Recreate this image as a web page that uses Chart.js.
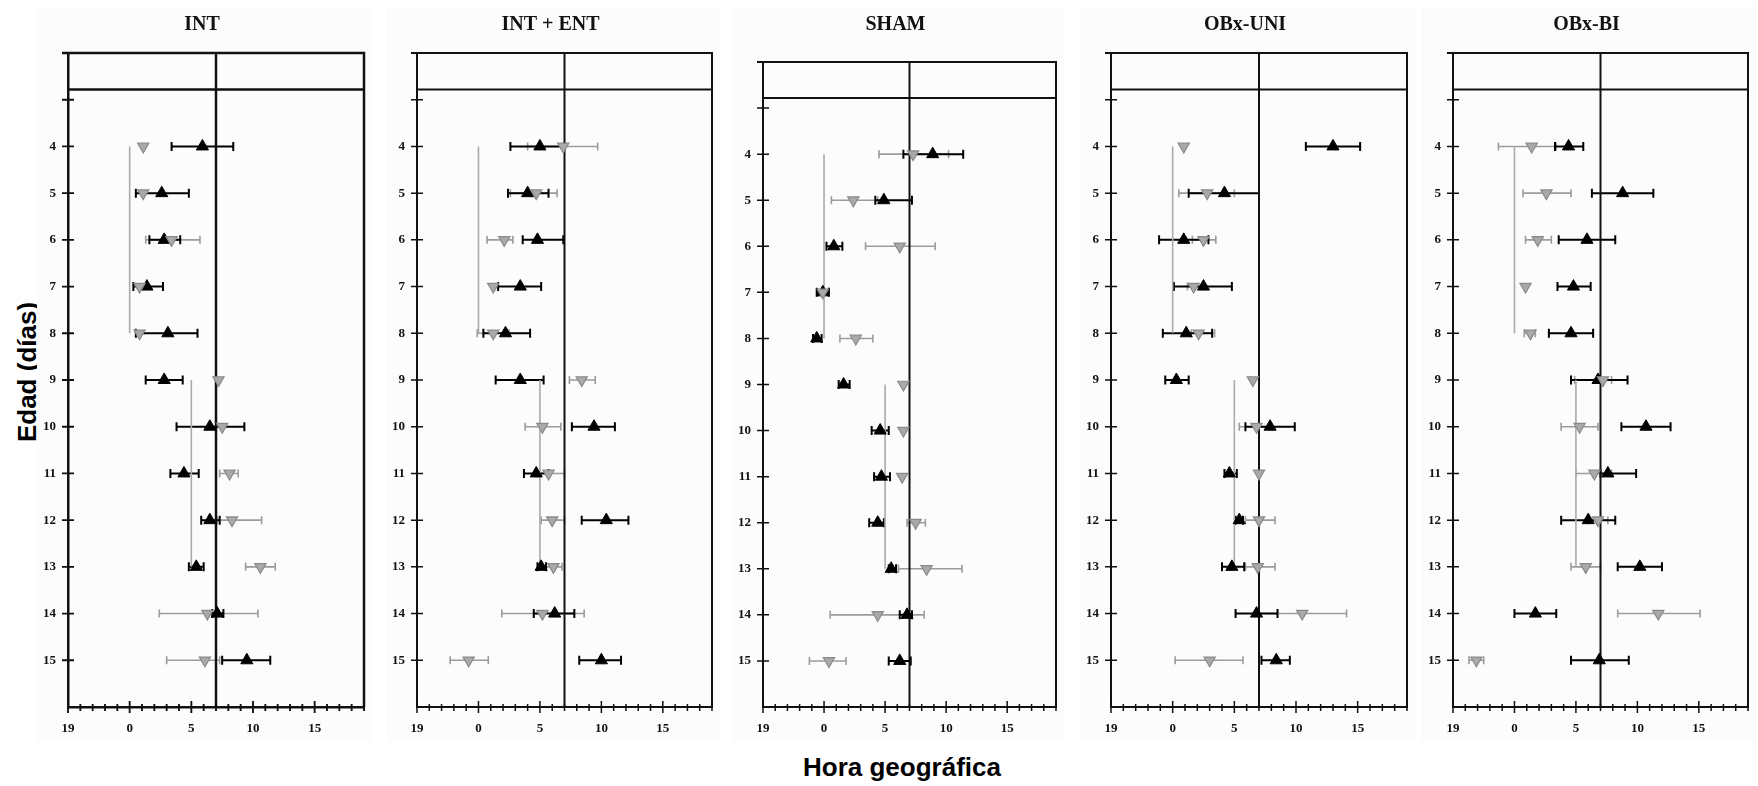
<!DOCTYPE html>
<html>
<head>
<meta charset="utf-8">
<script src="https://cdn.jsdelivr.net/npm/chart.js@4.4.1/dist/chart.umd.min.js"></script>
<style>
  body { margin: 0; background: #fff; width: 1758px; height: 786px; position: relative; overflow: hidden; }
  canvas { position: absolute; background: #fcfcfc; }
  .axis-title { position: absolute; font-family: 'Liberation Sans', Arial, sans-serif; font-weight: bold; font-size: 26px; line-height: 26px; white-space: nowrap; color: #000; }
</style>
</head>
<body>
<div class="axis-title" id="ytitle">Edad (días)</div>
<div class="axis-title" id="xtitle">Hora geográfica</div>
<script>
// ages (days) on the y axis
const ages = [4, 5, 6, 7, 8, 9, 10, 11, 12, 13, 14, 15];
const xTicks = [-5, 0, 5, 10, 15];   // -5 shows as hour 19
const refHour = 7;                   // black vertical reference line
const boxLine = 2.78;                // line closing the top box
// grey guide lines: hour, from age, to age
const guideLines = [[0, 4, 8], [5, 9, 13]];

// --- INT
const intBlack   = [5.9, 2.6, 2.8, 1.4, 3.1, 2.8, 6.5, 4.4, 6.5, 5.4, 7.1, 9.5];
const intBlackLo = [3.4, 0.5, 1.6, 0.3, 0.5, 1.3, 3.8, 3.3, 5.8, 4.8, 6.7, 7.5];
const intBlackHi = [8.4, 4.8, 4.1, 2.7, 5.5, 4.3, 9.3, 5.6, 7.3, 6.0, 7.6, 11.4];
const intGray    = [1.1, 1.1, 3.4, 0.8, 0.8, 7.2, 7.5, 8.1, 8.3, 10.6, 6.3, 6.1];
const intGrayLo  = [null, null, 1.3, null, null, null, null, 7.3, 7.1, 9.4, 2.4, 3.0];
const intGrayHi  = [null, null, 5.7, null, null, null, null, 8.8, 10.7, 11.8, 10.4, 7.3];

// --- INT + ENT
const entBlack   = [5.0, 4.0, 4.8, 3.4, 2.2, 3.4, 9.4, 4.7, 10.4, 5.1, 6.2, 10.0];
const entBlackLo = [2.6, 2.4, 3.6, 1.6, 0.4, 1.4, 7.6, 3.7, 8.4, 4.8, 4.5, 8.2];
const entBlackHi = [7.0, 5.7, 6.9, 5.1, 4.2, 5.3, 11.1, 5.7, 12.2, 5.5, 7.8, 11.6];
const entGray    = [6.9, 4.7, 2.1, 1.2, 1.2, 8.4, 5.2, 5.7, 6.0, 6.1, 5.2, -0.8];
const entGrayLo  = [4.0, 2.6, 0.7, null, -0.1, 7.4, 3.8, 4.7, 5.1, 5.5, 1.9, -2.3];
const entGrayHi  = [9.7, 6.4, 2.8, null, 2.5, 9.5, 6.7, 7.0, 7.0, 6.8, 8.6, 0.8];

// --- SHAM
const shamBlack   = [8.9, 4.9, 0.8, -0.1, -0.6, 1.6, 4.6, 4.7, 4.4, 5.5, 6.8, 6.2];
const shamBlackLo = [6.5, 4.2, 0.2, -0.6, -0.9, 1.2, 3.9, 4.1, 3.7, 5.3, 6.2, 5.3];
const shamBlackHi = [11.4, 7.2, 1.5, 0.4, -0.2, 2.1, 5.3, 5.4, 4.9, 5.9, 7.2, 7.1];
const shamGray    = [7.3, 2.4, 6.2, -0.1, 2.6, 6.5, 6.5, 6.4, 7.5, 8.4, 4.4, 0.4];
const shamGrayLo  = [4.5, 0.6, 3.4, null, 1.3, null, null, null, 6.8, 6.1, 0.5, -1.2];
const shamGrayHi  = [10.2, 4.4, 9.1, null, 4.0, null, null, null, 8.3, 11.3, 8.2, 1.8];

// --- OBx-UNI
const uniBlack   = [13.0, 4.2, 0.9, 2.5, 1.1, 0.3, 7.9, 4.6, 5.4, 4.8, 6.8, 8.4];
const uniBlackLo = [10.8, 1.3, -1.1, 0.1, -0.8, -0.6, 5.9, 4.2, 5.1, 4.0, 5.1, 7.2];
const uniBlackHi = [15.2, 7.0, 2.9, 4.8, 3.2, 1.3, 9.9, 5.2, 5.7, 5.8, 8.5, 9.5];
const uniGray    = [0.9, 2.8, 2.5, 1.7, 2.1, 6.5, 6.8, 7.0, 7.0, 6.9, 10.5, 3.0];
const uniGrayLo  = [null, 0.5, 1.6, 1.2, 1.5, null, 5.4, null, 5.9, 5.9, 7.0, 0.2];
const uniGrayHi  = [null, 5.0, 3.5, 2.6, 3.4, null, 8.0, null, 8.3, 8.3, 14.1, 5.7];

// --- OBx-BI
const biBlack   = [4.4, 8.8, 5.9, 4.8, 4.6, 6.8, 10.7, 7.6, 6.0, 10.2, 1.7, 6.9];
const biBlackLo = [3.3, 6.3, 3.6, 3.5, 2.8, 4.6, 8.7, 7.0, 3.8, 8.4, 0.0, 4.6];
const biBlackHi = [5.6, 11.3, 8.2, 6.2, 6.4, 9.2, 12.7, 9.9, 8.2, 12.0, 3.4, 9.3];
const biGray    = [1.4, 2.6, 1.9, 0.9, 1.3, 7.2, 5.3, 6.5, 6.8, 5.8, 11.7, -3.1];
const biGrayLo  = [-1.3, 0.7, 0.9, null, 0.8, 4.9, 3.8, 5.0, 6.0, 4.6, 8.4, -3.7];
const biGrayHi  = [3.4, 4.6, 3.0, null, 1.7, 7.9, 6.8, 7.9, 7.6, 7.0, 15.1, -2.5];

// layout of the five panels (page pixels)
const panels = [
  { title: 'INT',       black: [intBlack, intBlackLo, intBlackHi],    gray: [intGray, intGrayLo, intGrayHi],    left: 68,   right: 367,  top: 53, lw: 2.5 },
  { title: 'INT + ENT', black: [entBlack, entBlackLo, entBlackHi],    gray: [entGray, entGrayLo, entGrayHi],    left: 417,  right: 715,  top: 53, lw: 2 },
  { title: 'SHAM',      black: [shamBlack, shamBlackLo, shamBlackHi], gray: [shamGray, shamGrayLo, shamGrayHi], left: 763,  right: 1059, top: 62, lw: 2 },
  { title: 'OBx-UNI',   black: [uniBlack, uniBlackLo, uniBlackHi],    gray: [uniGray, uniGrayLo, uniGrayHi],    left: 1111, right: 1410, top: 53, lw: 2 },
  { title: 'OBx-BI',    black: [biBlack, biBlackLo, biBlackHi],       gray: [biGray, biGrayLo, biGrayHi],       left: 1453, right: 1751, top: 53, lw: 2 },
];

const CANVAS_TOP = 7, CANVAS_H = 735, PLOT_BOTTOM = 707, YAXIS_W = 31, PAD_R = 5;
const INK = '#111';

// error bars drawn under the markers
const errorBars = {
  id: 'errorBars',
  beforeDatasetsDraw(chart) {
    const { ctx, scales: { x, y } } = chart;
    chart.data.datasets.forEach(ds => {
      if (!ds.errLo) return;
      ctx.save();
      ctx.strokeStyle = ds.errColor;
      ctx.lineWidth = ds.errWidth;
      ds.data.forEach((p, i) => {
        const lo = ds.errLo[i], hi = ds.errHi[i];
        if (lo == null || hi == null) return;
        const py = y.getPixelForValue(p.y);
        const x0 = x.getPixelForValue(lo), x1 = x.getPixelForValue(hi);
        const c = ds.errCap;
        ctx.beginPath();
        ctx.moveTo(x0, py); ctx.lineTo(x1, py);
        ctx.moveTo(x0, py - c); ctx.lineTo(x0, py + c);
        ctx.moveTo(x1, py - c); ctx.lineTo(x1, py + c);
        ctx.stroke();
      });
      ctx.restore();
    });
  }
};

// box top/right, top band, reference hour and crossing tick marks
const frame = {
  id: 'frame',
  beforeDatasetsDraw(chart, args, opts) {
    const { ctx, chartArea: a, scales: { x, y } } = chart;
    ctx.save();
    ctx.strokeStyle = INK;
    ctx.lineWidth = opts.lw;
    ctx.beginPath();
    ctx.moveTo(a.left - 6, a.top); ctx.lineTo(a.right, a.top); ctx.lineTo(a.right, a.bottom);
    const by = y.getPixelForValue(boxLine);
    ctx.moveTo(a.left, by); ctx.lineTo(a.right, by);
    const rx = x.getPixelForValue(refHour);
    ctx.moveTo(rx, a.top); ctx.lineTo(rx, a.bottom);
    ctx.stroke();

    ctx.lineWidth = opts.lw * 0.75;
    ctx.beginPath();
    for (let h = x.min; h <= x.max; h++) {
      const px = x.getPixelForValue(h);
      const major = (h % 5 === 0);
      ctx.moveTo(px, a.bottom - (major ? 6 : 3));
      ctx.lineTo(px, a.bottom + (major ? 6 : 4));
    }
    for (let d = y.min + 1; d < y.max; d++) {
      const py = y.getPixelForValue(d);
      ctx.moveTo(a.left - 6, py); ctx.lineTo(a.left + 6, py);
    }
    ctx.stroke();
    ctx.restore();
  }
};

const tickFont = { family: 'Liberation Serif', size: 13, weight: 'bold' };

panels.forEach(p => {
  const canvas = document.createElement('canvas');
  const w = p.right - p.left + YAXIS_W + PAD_R;
  canvas.width = w;
  canvas.height = CANVAS_H;
  canvas.style.left = (p.left - YAXIS_W) + 'px';
  canvas.style.top = CANVAS_TOP + 'px';
  canvas.style.width = w + 'px';
  canvas.style.height = CANVAS_H + 'px';
  document.body.appendChild(canvas);

  const [bMean, bLo, bHi] = p.black;
  const [gMean, gLo, gHi] = p.gray;

  const datasets = [
    {
      label: 'gris',
      data: ages.map((a, i) => ({ x: gMean[i], y: a })),
      pointStyle: 'triangle', rotation: 180, pointRadius: 6.5,
      backgroundColor: '#a9a9a9', borderColor: '#8a8a8a', borderWidth: 1.2,
      errLo: gLo, errHi: gHi, errColor: '#9c9c9c', errWidth: 1.6, errCap: 4,
    },
    {
      label: 'negro',
      data: ages.map((a, i) => ({ x: bMean[i], y: a })),
      pointStyle: 'triangle', pointRadius: 7,
      backgroundColor: '#000', borderColor: '#000', borderWidth: 1,
      errLo: bLo, errHi: bHi, errColor: '#000', errWidth: 2, errCap: 4.5,
    },
  ];
  guideLines.forEach(([h, a0, a1]) => {
    datasets.push({
      data: [{ x: h, y: a0 }, { x: h, y: a1 }],
      showLine: true, pointRadius: 0,
      borderColor: '#ababab', borderWidth: 1.6,
    });
  });

  const chartTop = p.top - CANVAS_TOP;
  new Chart(canvas, {
    type: 'scatter',
    data: { datasets },
    options: {
      responsive: false,
      animation: false,
      devicePixelRatio: 1,
      layout: { padding: { left: 0, right: PAD_R, top: 0, bottom: 0 } },
      plugins: {
        legend: { display: false },
        tooltip: { enabled: false },
        title: {
          display: true, text: p.title, color: '#111',
          font: { family: 'Liberation Serif', size: 20, weight: 'bold', lineHeight: 1.2 },
          padding: { top: 6, bottom: chartTop - 30 },
        },
        frame: { lw: p.lw },
      },
      scales: {
        x: {
          type: 'linear', min: -5, max: 19,
          afterBuildTicks: s => { s.ticks = xTicks.map(v => ({ value: v })); },
          afterFit: s => { s.height = CANVAS_TOP + CANVAS_H - PLOT_BOTTOM; },
          grid: { display: false, drawTicks: false },
          border: { display: true, color: INK, width: p.lw },
          ticks: {
            font: tickFont, color: INK, padding: 14, maxRotation: 0, autoSkip: false,
            callback: v => (v + 24) % 24,
          },
        },
        y: {
          type: 'linear', min: 2, max: 16, reverse: true,
          afterBuildTicks: s => { s.ticks = ages.map(v => ({ value: v })); },
          afterFit: s => { s.width = YAXIS_W; },
          grid: { display: false, drawTicks: false },
          border: { display: true, color: INK, width: p.lw },
          ticks: { font: tickFont, color: INK, padding: 12, autoSkip: false },
        },
      },
    },
    plugins: [errorBars, frame],
  });
});

// axis titles shared by all panels
const yt = document.getElementById('ytitle');
yt.style.left = '27px';
yt.style.top = '372px';
yt.style.transform = 'translate(-50%, -50%) rotate(-90deg)';
const xt = document.getElementById('xtitle');
xt.style.left = '902px';
xt.style.top = '754px';
xt.style.transform = 'translateX(-50%)';
</script>
</body>
</html>
